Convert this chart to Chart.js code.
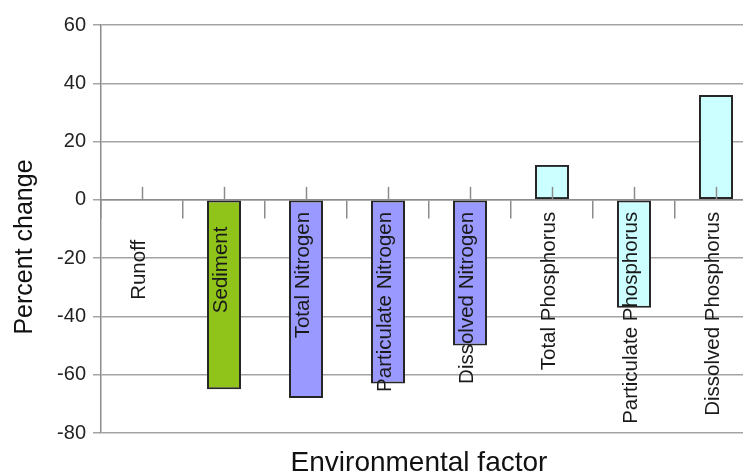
<!DOCTYPE html>
<html>
<head>
<meta charset="utf-8">
<title>Percent change by environmental factor</title>
<script src="https://cdn.jsdelivr.net/npm/chart.js@4.4.1/dist/chart.umd.min.js"></script>
<style>
  html, body { margin: 0; padding: 0; background: #ffffff; overflow: hidden; }
  #wrap { width: 743px; height: 476px; overflow: hidden; position: relative; }
  canvas { display: block; }
</style>
</head>
<body>
<div id="wrap"><canvas id="chart" width="760" height="476"></canvas></div>
<script>
// Categories along the x axis
const categories = [
  'Runoff', 'Sediment', 'Total Nitrogen', 'Particulate Nitrogen',
  'Dissolved Nitrogen', 'Total Phosphorus', 'Particulate Phosphorus', 'Dissolved Phosphorus'
];
// Percent change for each factor
const percentChange = [0, -65, -68, -63, -50, 12, -37, 36];
// Factor group of each category (decides the fill colour)
const groups = ['water', 'sediment', 'nitrogen', 'nitrogen', 'nitrogen', 'phosphorus', 'phosphorus', 'phosphorus'];
// Value axis ticks
const yTickValues = [-80, -60, -40, -20, 0, 20, 40, 60];

const yTitle = 'Percent change';
const xTitle = 'Environmental factor';

const groupFill = {
  water: '#cccccc',
  sediment: '#90c41a',
  nitrogen: '#9999ff',
  phosphorus: '#ccffff'
};
const gridGray = '#a4a4a4';
const axisGray = '#8c8c8c';
const fontFamily = '"Liberation Sans", Arial, Helvetica, sans-serif';

Chart.defaults.font.family = fontFamily;

// Category labels drawn inside the plot below the zero line, plus the centre tick marks and axis titles
const categoryLabels = {
  id: 'categoryLabels',
  afterDatasetsDraw(chart) {
    const { ctx, scales: { x, y } } = chart;
    const y0 = y.getPixelForValue(0);
    ctx.save();
    ctx.strokeStyle = axisGray;
    ctx.lineWidth = 1.5;
    categories.forEach((c, i) => {
      const cx = Math.round(x.getPixelForValue(i)) + 0.5;
      ctx.beginPath();
      ctx.moveTo(cx, y0 - 13);
      ctx.lineTo(cx, y0);
      ctx.stroke();
    });

    ctx.font = '20.5px ' + fontFamily;
    ctx.fillStyle = '#1a1a1a';
    ctx.textAlign = 'right';
    ctx.textBaseline = 'middle';
    const band = 116;
    categories.forEach((c, i) => {
      const w = ctx.measureText(c).width;
      const top = y0 + 12 + Math.max(0, (band - w) / 2);
      ctx.save();
      ctx.translate(x.getPixelForValue(i) - 3, top);
      ctx.rotate(-Math.PI / 2);
      ctx.fillText(c, 0, 0);
      ctx.restore();
    });

    ctx.fillStyle = '#111111';
    ctx.textAlign = 'center';
    ctx.font = '25px ' + fontFamily;
    ctx.save();
    ctx.translate(25, 247);
    ctx.rotate(-Math.PI / 2);
    ctx.fillText(yTitle, 0, 0);
    ctx.restore();

    ctx.font = '28px ' + fontFamily;
    ctx.fillText(xTitle, 419, 463);
    ctx.restore();
  }
};

new Chart(document.getElementById('chart'), {
  type: 'bar',
  data: {
    labels: categories,
    datasets: [{
      data: percentChange,
      backgroundColor: groups.map(g => groupFill[g]),
      borderColor: '#262626',
      borderWidth: 2,
      borderSkipped: false,
      barPercentage: 0.415,
      categoryPercentage: 1.0
    }]
  },
  options: {
    responsive: false,
    animation: false,
    layout: { padding: { left: 0, right: 3, top: 25, bottom: 43 } },
    plugins: {
      legend: { display: false },
      tooltip: { enabled: false }
    },
    scales: {
      x: {
        type: 'category',
        position: { y: 0 },
        offset: true,
        grid: {
          offset: true,
          drawOnChartArea: false,
          tickLength: 18,
          color: axisGray,
          lineWidth: 1.5
        },
        border: { color: axisGray, width: 1.5 },
        ticks: { display: false }
      },
      y: {
        min: -80,
        max: 60,
        afterBuildTicks(scale) {
          scale.ticks = yTickValues.map(v => ({ value: v }));
        },
        afterFit(scale) { scale.width = 101; },
        ticks: {
          color: '#222222',
          font: { size: 20 },
          padding: 7
        },
        grid: { color: gridGray, lineWidth: 1.5, tickLength: 8 },
        border: { color: axisGray, width: 1.5 }
      }
    }
  },
  plugins: [categoryLabels]
});
</script>
</body>
</html>
